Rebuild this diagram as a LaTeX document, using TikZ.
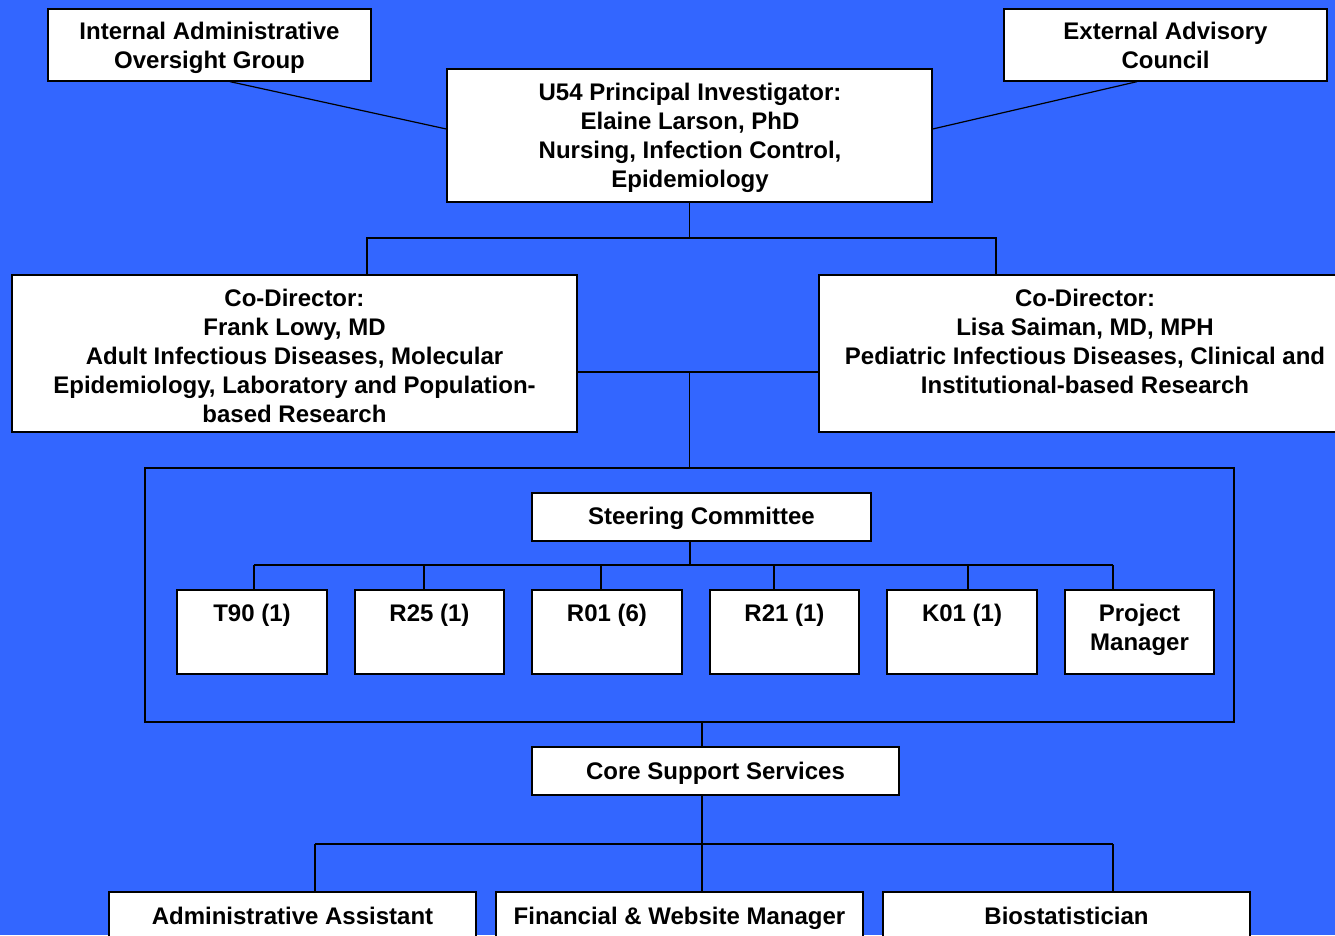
\documentclass[tikz,border=0pt]{standalone}
\usepackage{fontspec}
\setmainfont{Liberation Sans}
\usetikzlibrary{fit,calc}
\definecolor{bg}{RGB}{51,102,255}
\begin{document}
\begin{tikzpicture}[x=1pt,y=-1pt,
  box/.style={draw=black,fill=white,line width=1.3pt,inner sep=0pt},
  frame/.style={draw=black,line width=1.3pt,inner sep=0pt},
  txt/.style={font=\bfseries\fontsize{24}{29}\selectfont,align=center,inner sep=0pt,text=black,anchor=base},
  conn/.style={draw=black,line width=1.2pt}]
\fill[bg] (0,0) rectangle (1335,935);
\useasboundingbox (0,0) rectangle (1335,935);

% boxes
\node[box,fit={(48,9) (371,81)}] (iaog) {};
\node[box,fit={(1004,9) (1327,81)}] (eac) {};
\node[box,fit={(447,69) (932,202)}] (pi) {};
\node[box,fit={(12,275) (577,432)}] (cd1) {};
\node[box,fit={(819,275) (1351,432)}] (cd2) {};
\node[frame,fit={(145,468) (1234,722)}] (cont) {};
\node[box,fit={(532,493) (871,541)}] (st) {};
\node[box,fit={(177,590) (327,674)}] (t90) {};
\node[box,fit={(355,590) (504,674)}] (r25) {};
\node[box,fit={(532,590) (682,674)}] (r01) {};
\node[box,fit={(710,590) (859,674)}] (r21) {};
\node[box,fit={(887,590) (1037,674)}] (k01) {};
\node[box,fit={(1065,590) (1214,674)}] (pm) {};
\node[box,fit={(532,747) (899,795)}] (core) {};
\node[box,fit={(109,892) (476,945)}] (aa) {};
\node[box,fit={(496,892) (863,945)}] (fwm) {};
\node[box,fit={(883,892) (1250,945)}] (bio) {};

% texts (positioned by last-line baseline)
\node[txt] (iaogt) at (209.5,68.6) {Internal Administrative\\Oversight Group};
\node[txt] (eact) at (1165.5,68.6) {External Advisory\\Council};
\node[txt] (pit) at (690,187.6) {U54 Principal Investigator:\\Elaine Larson, PhD\\Nursing, Infection Control,\\Epidemiology};
\node[txt] (cd1t) at (294.5,422.6) {Co-Director:\\Frank Lowy, MD\\Adult Infectious Diseases, Molecular\\Epidemiology, Laboratory and Population-\\based Research};
\node[txt] (cd2t) at (1085,393.6) {Co-Director:\\Lisa Saiman, MD, MPH\\Pediatric Infectious Diseases, Clinical and\\Institutional-based Research};
\node[txt] (stt) at (701.5,524.5) {Steering Committee};
\node[txt] (t90t) at (252,621.6) {T90 (1)};
\node[txt] (r25t) at (429.5,621.6) {R25 (1)};
\node[txt] (r01t) at (607,621.6) {R01 (6)};
\node[txt] (r21t) at (784.5,621.6) {R21 (1)};
\node[txt] (k01t) at (962,621.6) {K01 (1)};
\node[txt] (pmt) at (1139.5,650.6) {Project\\Manager};
\node[txt] (coret) at (715.5,779) {Core Support Services};
\node[txt] (aat) at (292.5,924.5) {Administrative Assistant};
\node[txt] (fwmt) at (679.5,924.5) {Financial \& Website Manager};
\node[txt] (biot) at (1066.5,924.5) {Biostatistician};

% connectors: top
\draw[conn] ([xshift=20.5pt]iaog.south) -- ([yshift=6.5pt]pi.west);
\draw[conn] ([xshift=-28.5pt]eac.south) -- ([yshift=6.5pt]pi.east);
\coordinate (j1) at (689.5,238);
\draw[conn] (pi.south) -- (j1);
\draw[conn] ([xshift=72.5pt]cd1.north) |- (j1) -| ([xshift=-89pt]cd2.north);
\draw[conn] ([yshift=-18.5pt]cd1.east) -- ([yshift=-18.5pt]cd2.west);
\coordinate (j2) at (689.5,372);
\draw[conn] (j2) -- (cont.north);

% steering bus
\coordinate (b1) at (254,565);
\coordinate (b2) at (424,565);
\coordinate (b3) at (601,565);
\coordinate (b4) at (774,565);
\coordinate (b5) at (968,565);
\coordinate (b6) at (1113,565);
\draw[conn] ([xshift=-11.5pt]st.south) -- ([xshift=-11.5pt]st.south |- b1);
\draw[conn] (b1) -- (b6);
\draw[conn] (b1) -- (b1 |- t90.north);
\draw[conn] (b2) -- (b2 |- r25.north);
\draw[conn] (b3) -- (b3 |- r01.north);
\draw[conn] (b4) -- (b4 |- r21.north);
\draw[conn] (b5) -- (b5 |- k01.north);
\draw[conn] (b6) -- (b6 |- pm.north);

% core
\draw[conn] ([xshift=-13.5pt]core.north) -- ([xshift=-13.5pt]core.north |- cont.south);
\coordinate (c1) at (315,844);
\coordinate (c2) at (702,844);
\coordinate (c3) at (1113,844);
\draw[conn] ([xshift=-13.5pt]core.south) -- (c2);
\draw[conn] (c1) -- (c3);
\draw[conn] (c1) -- (c1 |- aa.north);
\draw[conn] (c2) -- (c2 |- fwm.north);
\draw[conn] (c3) -- (c3 |- bio.north);
\end{tikzpicture}
\end{document}
